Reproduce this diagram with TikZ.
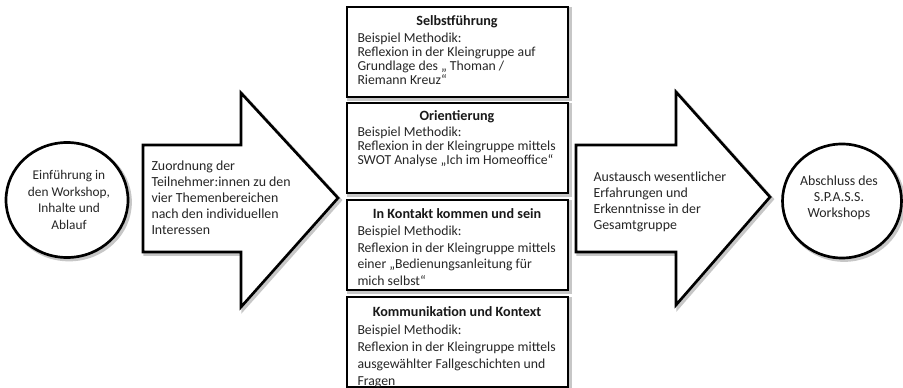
\documentclass[tikz,border=0pt]{standalone}
\usepackage{fontspec}
\setmainfont{Carlito}
\tikzset{every picture/.style={line width=0.75pt}}
\tikzset{
	shapeline/.style={draw=black, line width=2pt, fill=white, line join=miter,
		preaction={draw=black!22, line width=2.6pt, transform canvas={shift={(1.6pt,-1.6pt)}}}},
	bigtext/.style={inner sep=0pt, text=black!85, font=\fontsize{10.4}{12}\selectfont},
	boxtitle/.style={inner sep=0pt, text=black!90, font=\fontsize{10.6}{12}\selectfont\bfseries},
	boxtext/.style={inner sep=0pt, anchor=north west, align=left, text=black!85}
}

\begin{document}
\begin{tikzpicture}[x=0.75pt,y=0.75pt,yscale=-1,xscale=1]
	\useasboundingbox (0,0) rectangle (903,388);
	
	%Shape: Ellipse [id:start]
	\draw [shapeline] (67,200) ellipse [x radius=61, y radius=57.5];
	%Shape: Right Arrow [id:zuordnung]
	\draw [shapeline] (143,145) -- (241,145) -- (241,93) -- (338,198) -- (241,307) -- (241,252) -- (143,252) -- cycle;
	%Shape: Rectangle [id:box1]
	\draw [shapeline] (347,7) rectangle (568,97);
	%Shape: Rectangle [id:box2]
	\draw [shapeline] (347,103) rectangle (568,193);
	%Shape: Rectangle [id:box3]
	\draw [shapeline] (347,200) rectangle (568,290);
	%Shape: Rectangle [id:box4]
	\draw [shapeline] (347,297) rectangle (568,387);
	%Shape: Right Arrow [id:austausch]
	\draw [shapeline] (576,145) -- (676,145) -- (676,92) -- (770,197) -- (676,305) -- (676,252) -- (576,252) -- cycle;
	%Shape: Ellipse [id:ende]
	\draw [shapeline] (842,201) ellipse [x radius=59.5, y radius=57];
	
	% Text Node
	\draw (69,200) node (einf) [bigtext, align=center, font=\fontsize{10}{12.5}\selectfont] {Einführung in\\den Workshop,\\Inhalte und\\Ablauf};
	% Text Node
	\draw (151,160) node (zuord) [bigtext, anchor=north west, align=left] {Zuordnung der\\Teilnehmer:innen zu den\\vier Themenbereichen\\nach den individuellen\\Interessen};
	% Text Node
	\draw (457,22) node (selbst) [boxtitle] {Selbstführung};
	% Text Node
	\draw (357,32) node (selbsttxt) [boxtext, font=\fontsize{10.3}{10.5}\selectfont] {Beispiel Methodik:\\Reflexion in der Kleingruppe auf\\Grundlage des „ Thoman /\\Riemann Kreuz“};
	% Text Node
	\draw (457,117) node (orient) [boxtitle] {Orientierung};
	% Text Node
	\draw (357,126.5) node (orienttxt) [boxtext, font=\fontsize{10.3}{10.5}\selectfont] {Beispiel Methodik:\\Reflexion in der Kleingruppe mittels\\SWOT Analyse „Ich im Homeoffice“};
	% Text Node
	\draw (457,214) node (kontakt) [boxtitle] {In Kontakt kommen und sein};
	% Text Node
	\draw (357,225.5) node (kontakttxt) [boxtext, font=\fontsize{10.3}{12.5}\selectfont] {Beispiel Methodik:\\Reflexion in der Kleingruppe mittels\\einer „Bedienungsanleitung für\\mich selbst“};
	% Text Node
	\draw (457,312) node (komm) [boxtitle] {Kommunikation und Kontext};
	% Text Node
	\draw (357,324) node (kommtxt) [boxtext, font=\fontsize{10.3}{12.75}\selectfont] {Beispiel Methodik:\\Reflexion in der Kleingruppe mittels\\ausgewählter Fallgeschichten und\\Fragen};
	% Text Node
	\draw (593,171.5) node (aust) [bigtext, anchor=north west, align=left] {Austausch wesentlicher\\Erfahrungen und\\Erkenntnisse in der\\Gesamtgruppe};
	% Text Node
	\draw (839,198) node (absch) [bigtext, align=center] {Abschluss des\\S.P.A.S.S.\\Workshops};
	
\end{tikzpicture}
\end{document}
